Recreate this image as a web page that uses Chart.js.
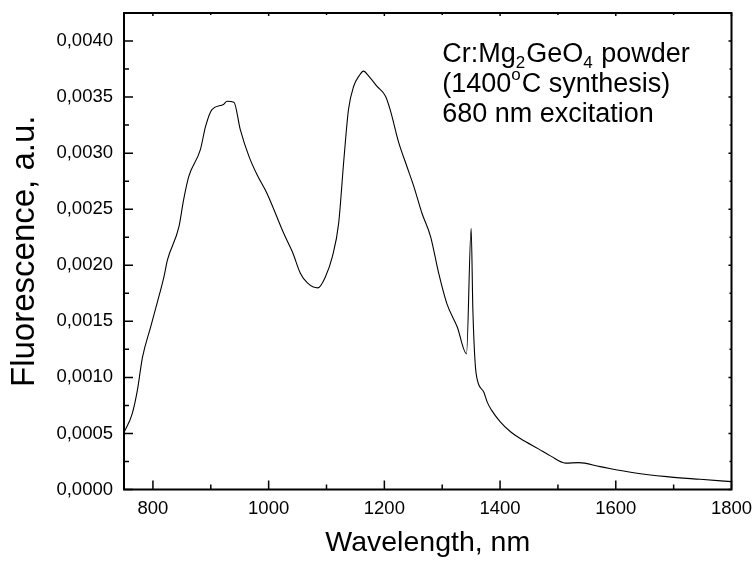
<!DOCTYPE html>
<html>
<head>
<meta charset="utf-8">
<title>Cr:Mg2GeO4 fluorescence</title>
<script src="https://cdn.jsdelivr.net/npm/chart.js"></script>
<style>
  html, body { margin: 0; padding: 0; background: #fff; }
  #chart { display: block; }
</style>
</head>
<body>
<canvas id="chart" width="754" height="561"></canvas>
<script>
// spectrum
const wavelength = [
  750, 764, 773, 782, 796, 807, 819, 825, 845, 853, 862, 882, 891, 902, 922, 928, 940,
  951, 966, 980, 997, 1026, 1041, 1055, 1067, 1085, 1098, 1110, 1121, 1130, 1138, 1147,
  1156, 1164, 1173, 1187, 1202, 1210, 1225, 1239, 1251, 1265, 1280, 1294, 1308, 1326,
  1342, 1350, 1353, 1357, 1361, 1372, 1378, 1385, 1400, 1418, 1435, 1467, 1487, 1513,
  1536, 1573, 1631, 1688, 1746, 1800
];
const fluorescence = [
  0.000509, 0.000673, 0.000882, 0.00118, 0.001449, 0.001658, 0.001896, 0.002046, 0.002344,
  0.002583, 0.002792, 0.003031, 0.003239, 0.003389, 0.003434, 0.003463, 0.003454,
  0.00321, 0.002971, 0.002807, 0.002643, 0.002285, 0.00212, 0.001927, 0.001843, 0.001798,
  0.001896, 0.002075, 0.002374, 0.002941, 0.003389, 0.003597,
  0.003687, 0.003732, 0.003687, 0.003597, 0.003508, 0.003389, 0.003091, 0.002881,
  0.002702, 0.002464, 0.002254, 0.001927, 0.001658, 0.001449,
  0.00121, 0.00233, 0.001598, 0.001121, 0.000971, 0.000867, 0.000777, 0.00071,
  0.000605, 0.000515, 0.000455, 0.00036, 0.0003, 0.000235,
  0.00024, 0.000204, 0.00015, 0.000115, 0.000091, 0.00007
];

const xTicks = [800, 1000, 1200, 1400, 1600, 1800];
const xMinor = [900, 1100, 1300, 1500, 1700];
const yTicks = [0, 0.0005, 0.001, 0.0015, 0.002, 0.0025, 0.003, 0.0035, 0.004];
const yMinor = [0.00025, 0.00075, 0.00125, 0.00175, 0.00225, 0.00275, 0.00325, 0.00375];

// annotation: [text, shift] with 1 = subscript, -1 = superscript
const noteLines = [
  [['Cr:Mg', 0], ['2', 1], ['GeO', 0], ['4', 1], [' powder', 0]],
  [['(1400', 0], ['o', -1], ['C synthesis)', 0]],
  [['680 nm excitation', 0]]
];

const FONT = '"Liberation Sans", Arial, sans-serif';

// frame and inward tick marks on all four sides
const frameTicks = {
  id: 'frameTicks',
  afterDatasetsDraw(chart) {
    const { ctx, chartArea: a, scales: { x, y } } = chart;
    ctx.save();
    ctx.strokeStyle = '#000';
    ctx.lineWidth = 2;
    ctx.strokeRect(a.left, a.top, a.right - a.left, a.bottom - a.top);

    ctx.lineWidth = 1.5;
    ctx.beginPath();
    const xMark = (v, len, lenTop) => {
      const px = x.getPixelForValue(v);
      ctx.moveTo(px, a.bottom); ctx.lineTo(px, a.bottom - len);
      ctx.moveTo(px, a.top); ctx.lineTo(px, a.top + lenTop);
    };
    const yMark = (v, len, lenRight) => {
      const py = y.getPixelForValue(v);
      ctx.moveTo(a.left, py); ctx.lineTo(a.left + len, py);
      ctx.moveTo(a.right, py); ctx.lineTo(a.right - lenRight, py);
    };
    xTicks.forEach(v => xMark(v, 9, 3));
    xMinor.forEach(v => xMark(v, 5, 2));
    yTicks.forEach(v => yMark(v, 9, 3));
    yMinor.forEach(v => yMark(v, 5, 2));
    ctx.stroke();
    ctx.restore();
  }
};

// the three-line label in the upper right
const note = {
  id: 'note',
  afterDraw(chart) {
    const { ctx, scales: { x, y } } = chart;
    const left = x.getPixelForValue(1300);
    let base = y.getPixelForValue(0.003810);
    ctx.save();
    ctx.fillStyle = '#000';
    ctx.textBaseline = 'alphabetic';
    noteLines.forEach(parts => {
      let cx = left;
      parts.forEach(([txt, shift]) => {
        ctx.font = (shift ? 17 : 27) + 'px ' + FONT;
        const dy = shift === 1 ? 6 : shift === -1 ? -12 : 0;
        ctx.fillText(txt, cx, base + dy);
        cx += ctx.measureText(txt).width + (shift ? 1 : 0);
      });
      base += 30;
    });
    ctx.restore();
  }
};

new Chart(document.getElementById('chart'), {
  type: 'scatter',
  data: {
    datasets: [{
      data: wavelength.map((w, i) => ({ x: w, y: fluorescence[i] })),
      showLine: true,
      borderColor: '#000',
      borderWidth: 1.1,
      pointRadius: 0,
      cubicInterpolationMode: 'monotone',
      fill: false
    }]
  },
  options: {
    responsive: false,
    animation: false,
    layout: { padding: { top: 13, right: 22.5, left: 0, bottom: 0 } },
    plugins: {
      legend: { display: false },
      tooltip: { enabled: false }
    },
    scales: {
      x: {
        type: 'linear',
        min: 750,
        max: 1800,
        afterBuildTicks: s => { s.ticks = xTicks.map(v => ({ value: v })); },
        afterFit: s => { s.height = 71.5; s.paddingLeft = 0; s.paddingRight = 0; },
        grid: { display: false, drawTicks: false },
        border: { display: false },
        ticks: {
          color: '#000',
          font: { family: FONT, size: 18.5 },
          padding: 8,
          maxRotation: 0,
          callback: v => String(v)
        },
        title: {
          display: true,
          text: 'Wavelength, nm',
          color: '#000',
          font: { family: FONT, size: 28.5 },
          padding: { top: 0, bottom: 1 }
        }
      },
      y: {
        type: 'linear',
        min: 0,
        max: 0.00425,
        afterBuildTicks: s => { s.ticks = yTicks.map(v => ({ value: v })); },
        afterFit: s => { s.width = 124; s.paddingTop = 0; s.paddingBottom = 0; },
        grid: { display: false, drawTicks: false },
        border: { display: false },
        ticks: {
          color: '#000',
          font: { family: FONT, size: 18.5 },
          padding: 11,
          callback: v => v.toFixed(4).replace('.', ',')
        },
        title: {
          display: true,
          text: 'Fluorescence, a.u.',
          color: '#000',
          font: { family: FONT, size: 33 },
          padding: { top: 5, bottom: 0 }
        }
      }
    }
  },
  plugins: [frameTicks, note]
});
</script>
</body>
</html>
